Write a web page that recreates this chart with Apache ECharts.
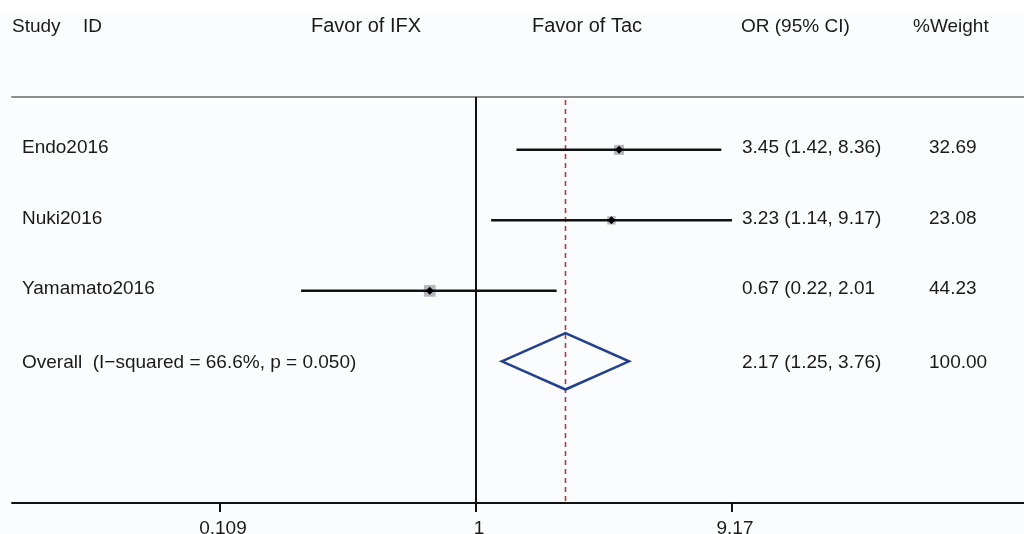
<!DOCTYPE html>
<html>
<head>
<meta charset="utf-8">
<script src="https://cdn.jsdelivr.net/npm/echarts@6/dist/echarts.min.js"></script>
<style>
  html, body { margin: 0; padding: 0; background: #fbfcfd; }
  #chart { width: 1024px; height: 534px; }
</style>
</head>
<body>
<div id="chart"></div>
<script>
// Study-level odds ratios with 95% confidence intervals
const studies = ['Endo2016', 'Nuki2016', 'Yamamato2016'];
const orEst = [3.45, 3.23, 0.67];
const ciLow = [1.42, 1.14, 0.22];
const ciHigh = [8.36, 9.17, 2.01];
const weights = [32.69, 23.08, 44.23];
const orLabels = ['3.45 (1.42, 8.36)', '3.23 (1.14, 9.17)', '0.67 (0.22, 2.01'];
const weightLabels = ['32.69', '23.08', '44.23'];

// Pooled estimate
const overallLabel = 'Overall  (I\u2212squared = 66.6%, p = 0.050)';
const overallEst = 2.17;
const overallLow = 1.25;
const overallHigh = 3.76;
const overallOrLabel = '2.17 (1.25, 3.76)';
const overallWeightLabel = '100.00';

// Axis ticks
const tickValues = [0.109, 1, 9.17];
const tickLabels = ['0.109', '1', '9.17'];

// Column headings
const headers = ['Study', 'ID', 'Favor of IFX', 'Favor of Tac', 'OR (95% CI)', '%Weight'];
const headerX = [12, 83, 311, 532, 741, 913];
const headerSize = [19, 19, 20, 20, 19, 19];

// Row slots (in row units, counted from the top rule)
const rowY = [0.75, 1.75, 2.75];
const overallY = 3.75;
const yMax = 5.76;

const FONT = '"Liberation Sans", Arial, sans-serif';
const FS = 19;
const TXT = '#1a1a1a';
const COL_NAME = 22, COL_OR = 742, COL_W = 929;

function textEl(x, y, str, align) {
  return {
    type: 'text', x: x, y: y,
    style: { text: str, fill: TXT, font: FS + 'px ' + FONT, textAlign: align || 'left', textVerticalAlign: 'middle' }
  };
}

const chart = echarts.init(document.getElementById('chart'), null, { renderer: 'canvas' });

const option = {
  backgroundColor: '#fbfcfd',
  animation: false,
  graphic: [
    { type: 'rect', shape: { x: 0, y: 0, width: 1024, height: 14 }, style: { fill: '#ffffff' } }
  ].concat(headers.map((h, i) => ({
    type: 'text', left: headerX[i], top: 17 - (headerSize[i] - FS) / 2,
    style: { text: h, fill: TXT, font: headerSize[i] + 'px ' + FONT }
  }))),
  grid: { left: 12, right: 0, top: 97, bottom: 31 },
  xAxis: [
    {
      type: 'log', logBase: 10, min: 0.01801, max: 114.9, position: 'bottom',
      axisLine: { show: true, onZero: false, lineStyle: { color: '#111', width: 2 } },
      axisTick: { show: false }, axisLabel: { show: false }, splitLine: { show: false }
    },
    {
      type: 'log', logBase: 10, min: 0.01801, max: 114.9, position: 'top',
      axisLine: { show: true, onZero: false, lineStyle: { color: '#8e8e8e', width: 2 } },
      axisTick: { show: false }, axisLabel: { show: false }, splitLine: { show: false }
    }
  ],
  yAxis: {
    type: 'value', min: 0, max: yMax, inverse: true, show: false
  },
  series: [
    // null line and pooled-estimate line
    {
      type: 'custom', clip: false, z: 1,
      data: [[1, 0], [overallEst, 1]],
      renderItem(params, api) {
        const a = api.coord([api.value(0), 0]);
        const b = api.coord([api.value(0), yMax]);
        const dashed = api.value(1) === 1;
        return {
          type: 'line',
          shape: { x1: a[0], y1: a[1] + (dashed ? 3 : 0), x2: b[0], y2: b[1] },
          style: dashed
            ? { stroke: '#b23b40', lineWidth: 1.6, lineDash: [5, 4] }
            : { stroke: '#111', lineWidth: 2 }
        };
      }
    },
    // individual studies
    {
      type: 'custom', clip: false, z: 3,
      data: studies.map((s, i) => [ciLow[i], ciHigh[i], orEst[i], rowY[i], weights[i], i]),
      renderItem(params, api) {
        const y = api.value(3);
        const lo = api.coord([api.value(0), y]);
        const hi = api.coord([api.value(1), y]);
        const c = api.coord([api.value(2), y]);
        const i = api.value(5);
        const box = 1.75 * Math.sqrt(api.value(4));
        const d = 4;
        return {
          type: 'group',
          children: [
            { type: 'rect', shape: { x: c[0] - box / 2, y: c[1] - box / 2, width: box, height: box }, style: { fill: '#b4b8bc' } },
            { type: 'line', shape: { x1: lo[0], y1: lo[1], x2: hi[0], y2: hi[1] }, style: { stroke: '#111', lineWidth: 2.5 } },
            { type: 'polygon', shape: { points: [[c[0] - d, c[1]], [c[0], c[1] - d], [c[0] + d, c[1]], [c[0], c[1] + d]] }, style: { fill: '#000' } },
            textEl(COL_NAME, c[1] - 2, studies[i]),
            textEl(COL_OR, c[1] - 2, orLabels[i]),
            textEl(COL_W, c[1] - 2, weightLabels[i])
          ]
        };
      }
    },
    // pooled diamond
    {
      type: 'custom', clip: false, z: 3,
      data: [[overallLow, overallHigh, overallEst, overallY]],
      renderItem(params, api) {
        const y = api.value(3);
        const lo = api.coord([api.value(0), y]);
        const hi = api.coord([api.value(1), y]);
        const top = api.coord([api.value(2), y - 0.4]);
        const bot = api.coord([api.value(2), y + 0.4]);
        return {
          type: 'group',
          children: [
            { type: 'polygon', shape: { points: [lo, top, hi, bot] }, style: { fill: null, stroke: '#23408e', lineWidth: 2.5, lineJoin: 'miter' } },
            textEl(COL_NAME, lo[1] + 1, overallLabel),
            textEl(COL_OR, lo[1] + 1, overallOrLabel),
            textEl(COL_W, lo[1] + 1, overallWeightLabel)
          ]
        };
      }
    },
    // axis ticks and labels
    {
      type: 'custom', clip: false, z: 4,
      data: tickValues.map((v, i) => [v, i]),
      renderItem(params, api) {
        const p = api.coord([api.value(0), yMax]);
        const i = api.value(1);
        return {
          type: 'group',
          children: [
            { type: 'line', shape: { x1: p[0], y1: p[1], x2: p[0], y2: p[1] + 9 }, style: { stroke: '#111', lineWidth: 2 } },
            { type: 'text', x: p[0] + 3, y: p[1] + 16, style: { text: tickLabels[i], fill: TXT, font: FS + 'px ' + FONT, textAlign: 'center', textVerticalAlign: 'top' } }
          ]
        };
      }
    }
  ]
};

chart.setOption(option);
</script>
</body>
</html>
